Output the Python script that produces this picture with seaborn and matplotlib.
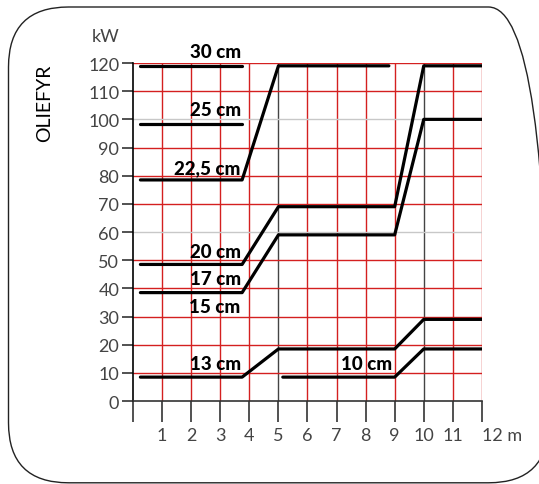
import pandas as pd
import seaborn as sns
import matplotlib.pyplot as plt
from matplotlib.patches import FancyBboxPatch

# pipe length (m) vs. kW, one polyline per series
series_names = ["30 cm", "25 cm", "22,5 cm", "20 cm", "17 cm", "13 cm", "10 cm"]
series_x = [
    [0.25, 3.75],
    [0.25, 3.75],
    [0.25, 3.75, 5, 8.8],
    [0.25, 3.75, 5, 9, 10, 12],
    [0.25, 3.75, 5, 9, 10, 12],
    [0.25, 3.75, 5, 9, 10, 12],
    [5.15, 9, 10, 12],
]
series_kw = [
    [119, 119],
    [98.5, 98.5],
    [78.5, 78.5, 119, 119],
    [48.5, 48.5, 69, 69, 119, 119],
    [38.5, 38.5, 59, 59, 100, 100],
    [8.5, 8.5, 18.5, 18.5, 29, 29],
    [8.5, 8.5, 18.5, 18.5],
]

label_text = ["30 cm", "25 cm", "22,5 cm", "20 cm", "17 cm", "15 cm", "13 cm", "10 cm"]
label_x = [3.7, 3.7, 3.7, 3.7, 3.7, 3.7, 3.7, 8.9]
label_y = [124, 103.5, 83, 53, 43.5, 33.5, 13.5, 13.5]

x_ticks = list(range(0, 13))
x_labels = [""] + [str(i) for i in range(1, 12)] + ["12 m"]
y_ticks = list(range(0, 121, 10))


def build_frame():
    rows = []
    for name, xs, ys in zip(series_names, series_x, series_kw):
        for order, (x, y) in enumerate(zip(xs, ys)):
            rows.append({"serie": name, "m": x, "kW": y, "order": order})
    return pd.DataFrame(rows)


def main():
    sns.set_style("white")
    plt.rcParams["font.family"] = ["Lato", "DejaVu Sans"]

    fig = plt.figure(figsize=(5.39, 4.85), dpi=100)
    ax = fig.add_axes([0.247, 0.171, 0.647, 0.697])

    # rounded frame round the whole chart (inches, so the corners stay round)
    box = FancyBboxPatch((0.085, 0.012), 5.40, 4.758,
                         boxstyle="round,pad=0,rounding_size=0.6",
                         transform=fig.dpi_scale_trans, fill=False,
                         edgecolor="#222222", linewidth=1.0)
    fig.patches.append(box)

    # grid
    for x in range(1, 13):
        col = "#444444" if x in (5, 10) else "#d42020"
        ax.axvline(x, color=col, linewidth=1.0, zorder=1)
    for y in range(10, 121, 10):
        col = "#c8c8c8" if y in (60, 100) else "#d42020"
        ax.axhline(y, color=col, linewidth=1.0, zorder=1)

    df = build_frame()
    sns.lineplot(data=df, x="m", y="kW", units="serie", estimator=None,
                 sort=False, color="black", linewidth=2.3, ax=ax, zorder=3)

    for t, x, y in zip(label_text, label_x, label_y):
        ax.text(x, y, t, ha="right", va="center", fontsize=13.5,
                fontweight="black", color="black", zorder=4)

    ax.set_xlim(0, 12)
    ax.set_ylim(0, 120)
    ax.set_xticks(x_ticks)
    ax.set_xticklabels(x_labels)
    ax.set_yticks(y_ticks)
    ax.get_xticklabels()[-1].set_horizontalalignment("left")
    ax.set_xlabel("")
    ax.set_ylabel("")
    ax.tick_params(axis="x", direction="out", length=15, width=1.2,
                   color="#333333", labelsize=13, labelcolor="#444444", pad=4)
    ax.tick_params(axis="y", direction="out", length=8, width=1.2,
                   color="#333333", labelsize=13, labelcolor="#444444", pad=2)
    ax.xaxis.set_ticks_position("bottom")
    ax.yaxis.set_ticks_position("left")
    for side in ("top", "right"):
        ax.spines[side].set_visible(False)
    ax.spines["left"].set_color("black")
    ax.spines["bottom"].set_color("#333333")
    ax.spines["left"].set_linewidth(1.2)
    ax.spines["bottom"].set_linewidth(1.2)

    fig.text(0.171, 0.924, "kW", fontsize=13, color="#444444",
             ha="left", va="center")
    fig.text(0.083, 0.788, "OLIEFYR", fontsize=14, color="black", rotation=90,
             ha="center", va="center")

    fig.savefig("out.png", dpi=100)


if __name__ == "__main__":
    main()
